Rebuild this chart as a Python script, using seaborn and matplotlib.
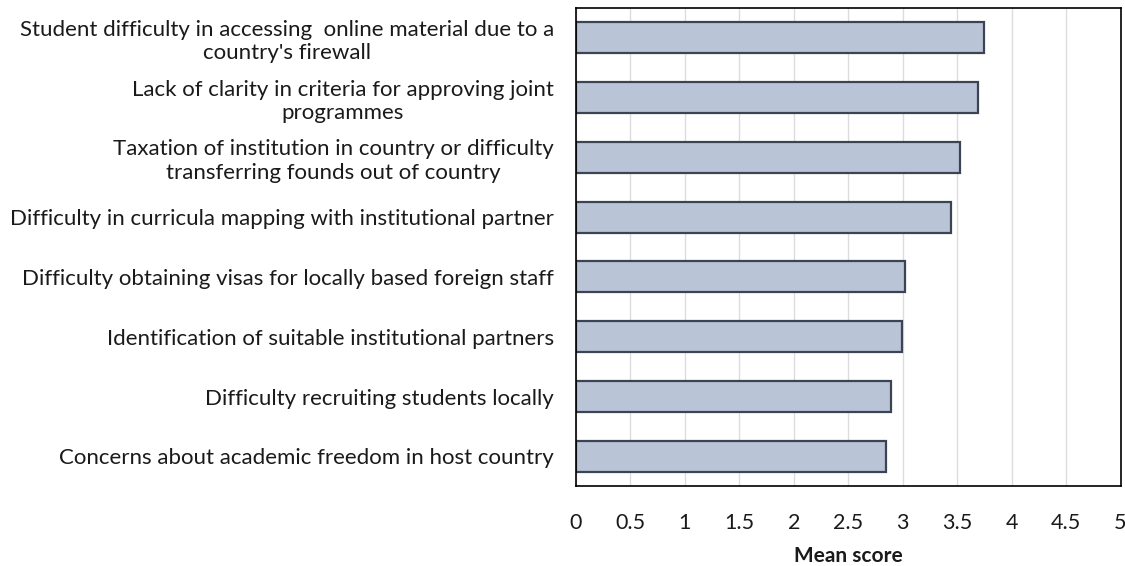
import matplotlib
matplotlib.use("Agg")
import matplotlib.pyplot as plt
import seaborn as sns
import pandas as pd

categories = [
    "Student difficulty in accessing  online material due to a\ncountry's firewall",
    "Lack of clarity in criteria for approving joint\nprogrammes",
    "Taxation of institution in country or difficulty\ntransferring founds out of country",
    "Difficulty in curricula mapping with institutional partner",
    "Difficulty obtaining visas for locally based foreign staff",
    "Identification of suitable institutional partners",
    "Difficulty recruiting students locally",
    "Concerns about academic freedom in host country",
]
mean_scores = [3.75, 3.69, 3.53, 3.44, 3.02, 2.99, 2.89, 2.85]
x_ticks = [0, 0.5, 1, 1.5, 2, 2.5, 3, 3.5, 4, 4.5, 5]

df = pd.DataFrame({"challenge": categories, "score": mean_scores})

sns.set_style("white")
plt.rcParams["font.family"] = ["Lato", "DejaVu Sans"]
plt.rcParams["text.color"] = "#1a1a1a"
plt.rcParams["xtick.color"] = "#1a1a1a"
plt.rcParams["ytick.color"] = "#1a1a1a"
plt.rcParams["axes.labelcolor"] = "#1a1a1a"

fig = plt.figure(figsize=(11.25, 5.66), dpi=100)
ax = fig.add_axes([0.512, 0.141, 0.484, 0.845])

sns.barplot(data=df, y="challenge", x="score", orient="h", color="#b9c4d6",
            edgecolor="#3b4452", linewidth=1.6, width=0.52, saturation=1, ax=ax)

ax.set_xlim(0, 5)
ax.set_xticks(x_ticks)
ax.set_xticklabels([f"{t:g}" for t in x_ticks], fontsize=15.5)
ax.set_xlabel("Mean score", fontsize=15, fontweight="bold", labelpad=10)
ax.set_ylabel("")
ax.xaxis.grid(True, color="#dcdcdc", linewidth=1)
ax.set_axisbelow(True)
ax.tick_params(axis="both", length=0)
ax.tick_params(axis="x", pad=19)
ax.tick_params(axis="y", pad=16)
for lbl in ax.get_yticklabels():
    lbl.set_fontsize(16)
    lbl.set_multialignment("center")
for s in ax.spines.values():
    s.set_color("black")
    s.set_linewidth(1.2)

fig.savefig("out.png", dpi=100)
